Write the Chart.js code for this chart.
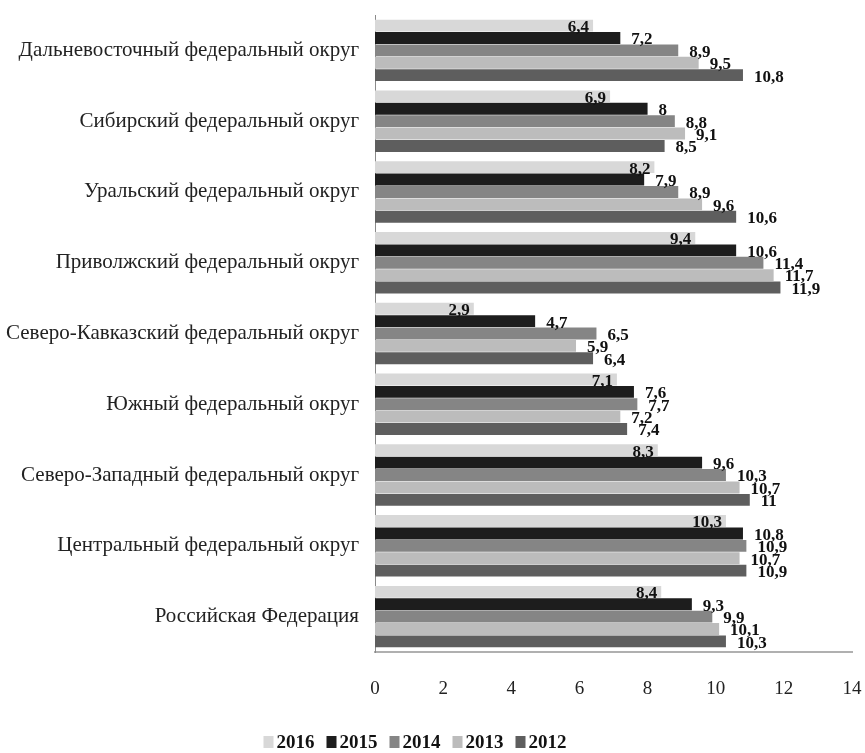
<!DOCTYPE html>
<html lang="ru">
<head>
<meta charset="utf-8">
<script src="https://cdn.jsdelivr.net/npm/chart.js@4/dist/chart.umd.min.js"></script>
<style>
  html, body { margin: 0; padding: 0; background: #fff; }
  #wrap { width: 865px; height: 753px; }
</style>
</head>
<body>
<div id="wrap"><canvas id="c" width="865" height="753"></canvas></div>
<script>
// Federal districts, top to bottom
const districts = [
  'Дальневосточный федеральный округ',
  'Сибирский федеральный округ',
  'Уральский федеральный округ',
  'Приволжский федеральный округ',
  'Северо-Кавказский федеральный округ',
  'Южный федеральный округ',
  'Северо-Западный федеральный округ',
  'Центральный федеральный округ',
  'Российская Федерация'
];

const years = ['2016', '2015', '2014', '2013', '2012'];

const values2016 = [6.4, 6.9, 8.2, 9.4, 2.9, 7.1, 8.3, 10.3, 8.4];
const values2015 = [7.2, 8.0, 7.9, 10.6, 4.7, 7.6, 9.6, 10.8, 9.3];
const values2014 = [8.9, 8.8, 8.9, 11.4, 6.5, 7.7, 10.3, 10.9, 9.9];
const values2013 = [9.5, 9.1, 9.6, 11.7, 5.9, 7.2, 10.7, 10.7, 10.1];
const values2012 = [10.8, 8.5, 10.6, 11.9, 6.4, 7.4, 11.0, 10.9, 10.3];

const xTicks = [0, 2, 4, 6, 8, 10, 12, 14];

const seriesValues = [values2016, values2015, values2014, values2013, values2012];
const seriesColors = ['#d8d8d8', '#1d1d1d', '#858585', '#bcbcbc', '#5e5e5e'];

const serif = '"Liberation Serif", "Times New Roman", serif';

// Value labels next to each bar end (decimal comma)
const valueLabels = {
  id: 'valueLabels',
  afterDatasetsDraw(chart) {
    const ctx = chart.ctx;
    ctx.save();
    ctx.font = 'bold 17px ' + serif;
    ctx.fillStyle = '#111';
    ctx.textBaseline = 'middle';
    chart.data.datasets.forEach((ds, di) => {
      const meta = chart.getDatasetMeta(di);
      meta.data.forEach((bar, i) => {
        const txt = String(ds.data[i]).replace('.', ',');
        if (di === 0) {
          ctx.textAlign = 'right';
          ctx.fillText(txt, bar.x - 4, bar.y + 2);
        } else {
          ctx.textAlign = 'left';
          ctx.fillText(txt, bar.x + 11, bar.y + 2);
        }
      });
    });
    ctx.restore();
  }
};

// Compact legend row under the axis: small square swatch tight to the year
const yearLegend = {
  id: 'yearLegend',
  afterDraw(chart) {
    const ctx = chart.ctx;
    const box = 10, boxH = 12, gap = 3, itemGap = 12;
    const cy = 742, cx = 415;
    ctx.save();
    ctx.font = 'bold 19px ' + serif;
    ctx.textBaseline = 'middle';
    ctx.textAlign = 'left';
    const items = chart.data.datasets.map(ds => ({
      text: ds.label, color: ds.backgroundColor, w: ctx.measureText(ds.label).width
    }));
    const total = items.reduce((s, it) => s + box + gap + it.w, 0) + itemGap * (items.length - 1);
    let x = cx - total / 2;
    items.forEach(it => {
      ctx.fillStyle = it.color;
      ctx.fillRect(x, cy - boxH / 2, box, boxH);
      ctx.fillStyle = '#111';
      ctx.fillText(it.text, x + box + gap, cy + 1);
      x += box + gap + it.w + itemGap;
    });
    ctx.restore();
  }
};

new Chart(document.getElementById('c'), {
  type: 'bar',
  data: {
    labels: districts,
    datasets: years.map((y, k) => ({
      label: y,
      data: seriesValues[k],
      backgroundColor: seriesColors[k],
      borderWidth: 0,
      categoryPercentage: 0.875,
      barPercentage: 0.96
    }))
  },
  options: {
    indexAxis: 'y',
    responsive: false,
    animation: false,
    layout: { padding: { top: 15, right: 13, left: 0, bottom: 26 } },
    scales: {
      x: {
        min: 0,
        max: 14,
        afterBuildTicks(scale) { scale.ticks = xTicks.map(v => ({ value: v })); },
        afterFit(scale) {
          scale.height = 75;
          scale.paddingLeft = 0;
          scale.paddingRight = 0;
        },
        grid: { display: false, drawTicks: false },
        border: { display: true, color: '#b0b0b0', width: 2 },
        ticks: {
          padding: 26,
          color: '#222',
          font: { family: serif, size: 19 }
        }
      },
      y: {
        grid: { display: false, drawTicks: false },
        border: { display: true, color: '#8a8a8a', width: 1 },
        afterFit(scale) {
          scale.width = 375;
          scale.paddingTop = 0;
          scale.paddingBottom = 0;
        },
        ticks: {
          padding: 16,
          color: '#222',
          font: { family: serif, size: 21 }
        }
      }
    },
    plugins: {
      legend: { display: false },
      tooltip: { enabled: false }
    }
  },
  plugins: [valueLabels, yearLegend]
});
</script>
</body>
</html>
